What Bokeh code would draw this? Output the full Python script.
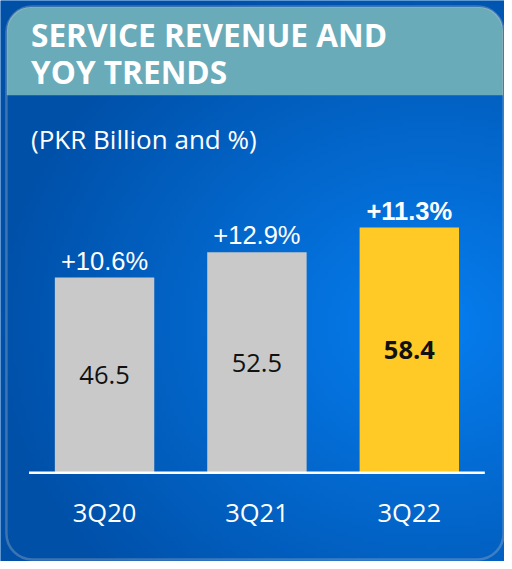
import numpy as np
from bokeh.plotting import figure
from bokeh.models import FactorRange, Range1d, BoxAnnotation, Label, ColumnDataSource
from bokeh.core.properties import value
from bokeh.transform import dodge
from bokeh.embed import file_html
from bokeh.resources import INLINE

# ---- data ----
categories = ["3Q20", "3Q21", "3Q22"]
revenue = [46.5, 52.5, 58.4]
value_labels = ["46.5", "52.5", "58.4"]
yoy_labels = ["+10.6%", "+12.9%", "+11.3%"]
label_styles = ["normal", "normal", "bold"]
bar_colors = ["#c9c9c9", "#c9c9c9", "#ffc926"]
title_lines = ["SERVICE REVENUE AND", "YOY TRENDS"]
subtitle = "(PKR Billion and %)"

# ---- layout constants (reference is 512x569, figure is 504x561) ----
W, H = 504, 561
KX, KY = W / 512, H / 569
SX = 154.8 * KX                      # px per category
NU = W / SX                          # units across the figure
PAD = (NU - len(categories)) / 2
SHIFT = (105.7 * KX - (0.5 + PAD) * SX) / SX
SY = 4.258 * KY                      # px per billion
BASE = 479 * KY
y_start = -(H - BASE) / SY
y_end = y_start + H / SY


def X(px):   # reference px -> synthetic x
    return -PAD + px * KX / SX


def Y(py):   # reference px -> data y
    return y_end - py * KY / SY


p = figure(width=W, height=H,
           x_range=FactorRange(factors=categories, range_padding=PAD, range_padding_units="absolute"),
           y_range=Range1d(y_start, y_end),
           output_backend="svg", toolbar_location=None, min_border=0,
           x_axis_location=None, y_axis_location=None, outline_line_color=None)
p.grid.visible = False
p.background_fill_color = "#0060c0"
p.border_fill_color = "#0060c0"

# gradient background (computed in reference pixel space)
gw, gh = 128, 142
xs = np.linspace(0, 512, gw)
ys = np.linspace(0, 569, gh)
XX, YY = np.meshgrid(xs, ys)
d = np.sqrt(((XX - 440) / 450) ** 2 + ((YY - 330) / 380) ** 2)
t = np.clip(d, 0, 1)[..., None]
c0 = np.array([0x06, 0x7e, 0xf0], dtype=float)
c1 = np.array([0x00, 0x50, 0xa8], dtype=float)
rgb = c0 * (1 - t) + c1 * t
img = np.empty((gh, gw), dtype=np.uint32)
view = img.view(dtype=np.uint8).reshape((gh, gw, 4))
view[..., 0] = rgb[..., 0].astype(np.uint8)
view[..., 1] = rgb[..., 1].astype(np.uint8)
view[..., 2] = rgb[..., 2].astype(np.uint8)
view[..., 3] = 255
img = img[::-1].copy()
p.image_rgba(image=[img], x=X(0), y=y_start, dw=NU, dh=H / SY)

# header band & panel border
p.add_layout(BoxAnnotation(left=X(6.5), right=X(510.5), top=Y(6.5), bottom=Y(96),
                           fill_color="#6aabb9", fill_alpha=1, line_color=None,
                           border_radius=(24, 24, 0, 0)))
p.add_layout(BoxAnnotation(left=X(6), right=X(511), top=Y(6), bottom=Y(567),
                           fill_alpha=0, line_color="#c8c8c8", line_width=2.5,
                           border_radius=26))

src = ColumnDataSource(dict(cat=categories, rev=revenue, half=[v / 2 for v in revenue],
                            vlab=value_labels, ylab=yoy_labels, style=label_styles,
                            color=bar_colors, zero=[0] * len(categories)))
xc = dodge("cat", SHIFT, range=p.x_range)

p.vbar(x=xc, top="rev", width=101 / 154.8, fill_color="color", line_color=None, source=src)
p.segment(x0=[X(29)], y0=[0], x1=[X(492)], y1=[0], line_color="white", line_width=2.5)

FS = "25.5px"
p.text(x=xc, y="half", text="vlab", source=src, text_font=value("Open Sans"),
       text_font_size=FS, text_font_style="style", text_color="#111111",
       text_align="center", text_baseline="middle")
p.text(x=xc, y="rev", text="ylab", source=src, text_font=value("Liberation Sans"),
       text_font_size=FS, text_font_style="style", text_color="white",
       text_align="center", text_baseline="middle", y_offset=-17)
p.text(x=xc, y="zero", text="cat", source=src, text_font=value("Open Sans"),
       text_font_size=FS, text_color="white",
       text_align="center", text_baseline="middle", y_offset=39)

for i, line in enumerate(title_lines):
    p.add_layout(Label(x=X(31), y=Y(34 + 38 * i), text=line, text_font="Open Sans",
                       text_font_size="31.6px", text_font_style="bold", text_color="white",
                       text_baseline="middle"))
p.add_layout(Label(x=X(31), y=Y(140), text=subtitle, text_font="Open Sans",
                   text_font_size="26px", text_color="white", text_baseline="middle"))

open("out.html", "w").write(file_html(p, INLINE))
